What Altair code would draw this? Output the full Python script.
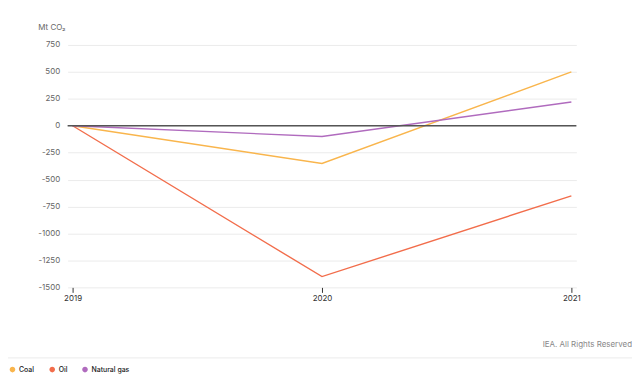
import altair as alt
import pandas as pd

years = [2019, 2020, 2021]
coal = [0, -350, 500]
oil = [0, -1400, -650]
gas = [0, -100, 220]
series = ["Coal", "Oil", "Natural gas"]
colors = ["#F9B54C", "#F26D4B", "#B06BBE"]
y_ticks = [-1500, -1250, -1000, -750, -500, -250, 0, 250, 500, 750]

rows = []
for name, vals in zip(series, [coal, oil, gas]):
    for yr, v in zip(years, vals):
        rows.append({"year": str(yr), "value": v, "fuel": name})
df = pd.DataFrame(rows)

FONT = "Inter"

y_axis = alt.Axis(values=y_ticks, tickCount=len(y_ticks), labelExpr="datum.value + ''", title="Mt CO₂",
                  titleAngle=0, titleAlign="left", titleBaseline="bottom",
                  titleX=-30, titleY=-14, titleFontSize=8, titleFontWeight="normal",
                  titleColor="#666", titleFont=FONT,
                  grid=True, gridColor="#EBEBEB", domain=False, ticks=False,
                  labelColor="#666", labelFontSize=8, labelPadding=8, labelFont=FONT,
                  labelOverlap=False, labelFlush=False)
y_scale = alt.Scale(domain=[-1500, 750], nice=False)

x = alt.X("year:O", scale=alt.Scale(type="point", domain=[str(v) for v in years], padding=0.02),
          axis=alt.Axis(title=None, grid=False, labelAngle=0,
                        domain=False, ticks=True, tickSize=5, tickColor="#333", labelColor="#333",
                        labelFontSize=8, labelPadding=2, labelFont=FONT,
                        labelOverlap=False))
y = alt.Y("value:Q", scale=y_scale, axis=y_axis)

lines = alt.Chart(df).mark_line(strokeWidth=1.4).encode(
    x=x, y=y,
    color=alt.Color("fuel:N", scale=alt.Scale(domain=series, range=colors),
                    legend=alt.Legend(orient="none", legendX=-59, legendY=323,
                                      direction="horizontal", title=None,
                                      symbolType="circle", symbolSize=8, symbolStrokeWidth=2.8,
                                      labelFontSize=7, labelFont=FONT, labelFontWeight=500,
                                      labelColor="#222", columnPadding=10, labelOffset=3,
                                      symbolOffset=0)),
    detail="fuel:N",
)

zero_df = pd.DataFrame({"value": [0]})
zero = alt.Chart(zero_df).mark_rule(color="#555", strokeWidth=1.3).encode(
    y=alt.Y("value:Q", scale=y_scale, axis=y_axis))

credit = alt.Chart(pd.DataFrame({"t": ["IEA. All Rights Reserved"]})).mark_text(
    align="right", baseline="middle", fontSize=8, color="#888", font=FONT
).encode(text="t:N", x=alt.value(568), y=alt.value(302))

sep = alt.Chart(pd.DataFrame({"a": [1]})).mark_rule(color="#EBEBEB", strokeWidth=1).encode(
    x=alt.value(-66), x2=alt.value(574), y=alt.value(315))

chart = alt.layer(lines, zero, credit, sep).properties(
    width=512, height=244,
    padding={"left": 60, "top": 36, "right": 56, "bottom": 86},
    autosize=alt.AutoSizeParams(type="none"),
).configure_view(stroke=None)

chart.save("out.html", embed_options={"renderer": "svg", "actions": False})
